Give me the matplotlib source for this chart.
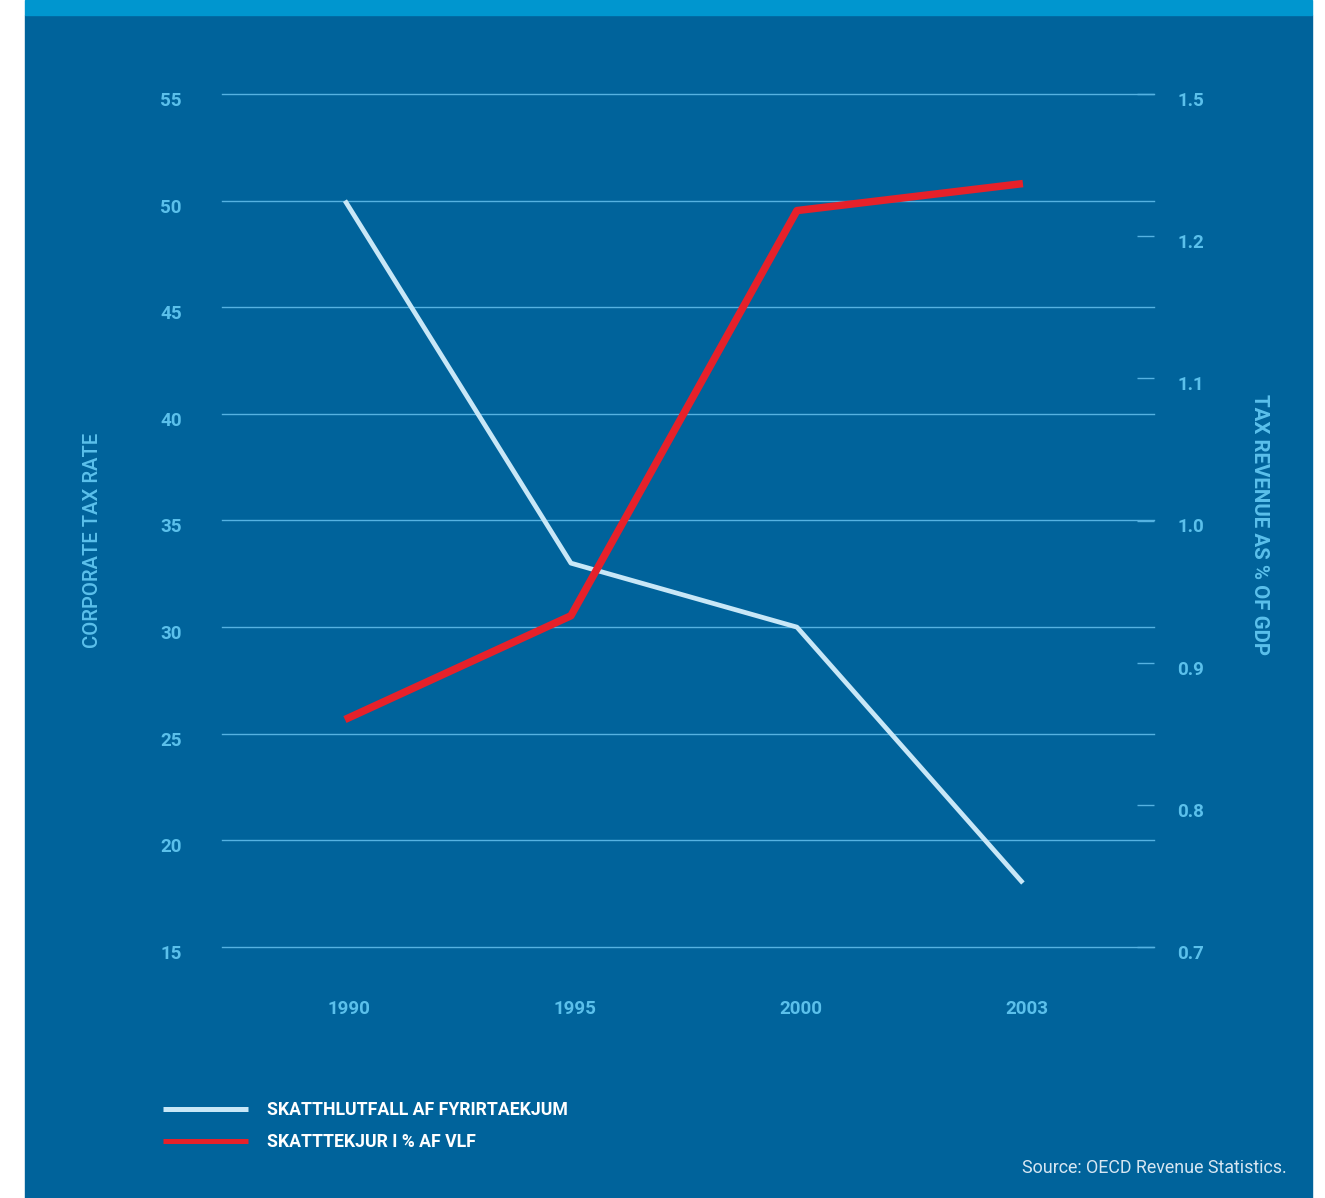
import matplotlib.pyplot as plt
from matplotlib.patches import Rectangle
from matplotlib.transforms import ScaledTranslation

# data
years = ["1990", "1995", "2000", "2003"]
tax_rate = [50, 33, 30, 18]                 # corporate tax rate (left axis)
tax_revenue = [0.86, 0.933, 1.218, 1.237]   # tax revenue as % of GDP (right axis)

left_ticks = [15, 20, 25, 30, 35, 40, 45, 50, 55]
right_ticks = [0.7, 0.8, 0.9, 1.0, 1.1, 1.2, 1.3]
right_labels = ["0.7", "0.8", "0.9", "1.0", "1.1", "1.2", "1.5"]  # top label reads 1.5 in the original

bg = "#00639B"
band = "#0096CF"
tick_col = "#5BC0EB"
grid_col = "#55B2E2"
white_line = "#C8E7F7"
red_line = "#E6212A"

plt.rcParams["font.family"] = ["Roboto", "DejaVu Sans"]

fig = plt.figure(figsize=(13.25, 11.98), dpi=100, facecolor="white")
fig.patches.append(Rectangle((25 / 1325, 0), 1287 / 1325, 1 - 15 / 1198,
                             transform=fig.transFigure, color=bg, zorder=-2))
fig.patches.append(Rectangle((25 / 1325, 1 - 15 / 1198), 1287 / 1325, 15 / 1198,
                             transform=fig.transFigure, color=band, zorder=-2))

ax = fig.add_axes([222 / 1325, 1 - 947 / 1198, 932 / 1325, 853 / 1198])
ax.set_facecolor("none")
ax2 = ax.twinx()

x = list(range(len(years)))
l1, = ax.plot(x, tax_rate, color=white_line, lw=3.4, solid_capstyle="butt",
              label="SKATTHLUTFALL AF FYRIRTAEKJUM", zorder=3)
l2, = ax2.plot(x, tax_revenue, color=red_line, lw=5.4, solid_capstyle="butt",
               label="SKATTTEKJUR I % AF VLF", zorder=3)

ax.set_xlim(-0.544, 3.58)
ax.set_ylim(15, 55)
ax2.set_ylim(0.7, 1.3)

ax.grid(axis="y", color=grid_col, lw=1.0)
ax.set_axisbelow(True)

for a in (ax, ax2):
    for s in a.spines.values():
        s.set_visible(False)

ax.tick_params(axis="x", length=0, pad=38, labelsize=13.5, labelcolor=tick_col)
ax.tick_params(axis="y", length=0, pad=29, labelsize=13.5, labelcolor=tick_col)
ax2.tick_params(axis="y", direction="in", length=12, width=1.0, color=grid_col,
                pad=17, labelsize=13.5, labelcolor=tick_col)

ax.set_xticks(x)
ax.set_xticklabels(years, fontweight="bold")
ax.set_yticks(left_ticks)
ax.set_yticklabels([str(v) for v in left_ticks], fontweight="bold")
ax2.set_yticks(right_ticks)
ax2.set_yticklabels(right_labels, fontweight="bold")

for gl in ax.get_ygridlines():
    gl.set_clip_on(False)

# tick labels sit a little off their ticks in the original
off = ScaledTranslation(0, -5 / 100, fig.dpi_scale_trans)
for lab in ax.get_yticklabels() + ax2.get_yticklabels():
    lab.set_transform(lab.get_transform() + off)
xoff = ScaledTranslation(4 / 100, 0, fig.dpi_scale_trans)
for lab in ax.get_xticklabels():
    lab.set_transform(lab.get_transform() + xoff)

fig.text(92 / 1325, 1 - 540 / 1198, "CORPORATE TAX RATE", rotation=90,
         ha="center", va="center", color=tick_col, fontsize=14.6, fontweight="medium")
fig.text(1260 / 1325, 1 - 525 / 1198, "TAX REVENUE AS % OF GDP", rotation=-90,
         ha="center", va="center", color=tick_col, fontsize=14.8, fontweight="bold")

leg = fig.legend(handles=[l1, l2], loc="center left",
                 bbox_to_anchor=(163 / 1325, 1 - 1126 / 1198),
                 frameon=False, borderpad=0, borderaxespad=0,
                 handlelength=4.8, handletextpad=1.1, labelspacing=0.8,
                 prop={"size": 12.7, "weight": "bold"})
for t in leg.get_texts():
    t.set_color("white")
for h in leg.legend_handles:
    h.set_linewidth(3.6)

fig.text(1287 / 1325, 1 - 1168 / 1198, "Source: OECD Revenue Statistics.",
         ha="right", va="center", color="#D6E6F2", fontsize=12.9)

fig.savefig("out.png", dpi=100, facecolor=fig.get_facecolor())
